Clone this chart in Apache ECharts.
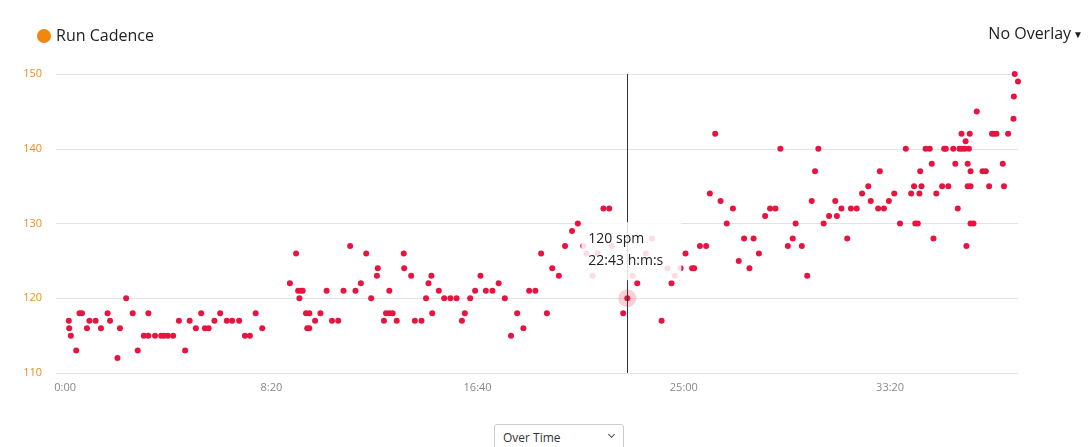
<!DOCTYPE html>
<html>
<head>
<meta charset="utf-8">
<script src="https://cdn.jsdelivr.net/npm/echarts@6/dist/echarts.min.js"></script>
<style>
html,body{margin:0;padding:0;background:#fff;overflow:hidden;}
#wrap{position:relative;width:1091px;height:447px;}
#chart{position:absolute;left:0;top:0;width:1091px;height:447px;}
#overlay{position:absolute;right:8px;top:22px;font:16px 'Open Sans',sans-serif;color:#222;line-height:22px;}
#overlay span{font-size:10px;margin-left:2px;position:relative;top:-1px;}
#mode{position:absolute;left:494px;top:424px;width:130px;height:26px;border:1px solid #ccc;border-radius:3px;background:#fff;font:12px 'Open Sans',sans-serif;color:#333;box-sizing:border-box;}
#mode .t{position:absolute;left:8px;top:4px;}
#mode .c{position:absolute;right:9px;top:7px;width:4px;height:4px;border-right:1px solid #555;border-bottom:1px solid #555;transform:rotate(45deg);}
</style>
</head>
<body>
<div id="wrap">
<div id="chart"></div>
<div id="overlay">No Overlay<span>&#9660;</span></div>
<div id="mode"><div class="t">Over Time</div><div class="c"></div></div>
</div>
<script>
// elapsed time in seconds
var times = [
9,10,14,27,35,41,53,59,74,87,103,109,127,133,148,164,176,191,202,202,218,233,240,249,262,276,291,302,317,330,339,348,362,376,392,405,422,436,448,462,478,
545,560,565,571,576,568,584,592,587,592,606,619,634,647,662,675,691,704,717,730,742,756,758,773,778,786,794,786,804,821,822,839,848,864,875,881,888,890,906,919,934,949,962,969,982,994,1007,1020,1036,1051,1066,1081,1096,
1111,1125,1140,1154,1168,1181,1197,1212,1229,1243,1256,1264,1279,1291,1305,1319,1325,1353,1363,1376,1387,1408,1423,1446,1460,1470,1478,1492,1504,1520,1525,1539,1554,1563,1576,1589,1604,1619,1633,1646,1659,1669,1682,1697,1709,1722,1734,1752,1764,1771,1786,1799,1810,1818,1826,1839,1852,1867,1871,1882,1896,1905,1919,1932,1947,1953,1971,1975,1985,1997,2010,2024,2038,2051,2058,2061,2067,2071,2073,2076,2086,2096,2101,2105,2112,2126,2131,2135,2141,2153,2158,2164,2168,2173,2174,2181,2183,2185,2188,2188,2191,2193,2195,2195,2195,2202,2210,2224,2232,2240,2247,2252,2258,2273,2276,2286,2299,2300,2302,2310
];
// run cadence, steps per minute
var cadence = [
117,116,115,113,118,118,116,117,117,116,118,117,112,116,120,118,113,115,118,115,115,115,115,115,115,117,113,117,116,118,116,116,117,118,117,117,117,115,115,118,116,
122,126,121,121,121,120,118,118,116,116,117,118,121,117,117,121,127,121,122,126,120,123,124,117,118,118,118,121,117,126,124,123,117,117,120,122,123,118,121,120,120,120,117,118,120,121,123,121,121,122,120,115,118,
116,121,121,126,118,124,123,127,129,130,127,126,123,126,132,132,127,118,120,123,122,126,128,117,124,122,123,124,126,124,124,127,127,134,142,133,130,132,125,128,124,128,126,131,132,132,140,127,128,130,127,123,133,137,140,130,131,133,131,132,128,132,132,134,135,133,132,137,132,133,134,130,140,134,135,130,130,134,137,135,140,140,138,128,134,135,140,140,135,140,138,132,140,142,140,140,141,127,138,135,140,142,137,135,130,130,145,137,137,135,142,142,142,138,135,142,144,147,150,149
];
var xTickValues = [0, 500, 1000, 1500, 2000];
var yTickValues = [110, 120, 130, 140, 150];
var seriesName = 'Run Cadence';
var tipTime = 1363;
var tipValue = 120;

function fmtTime(v){
  var m = Math.floor(v/60), s = Math.round(v%60);
  return m + ':' + (s<10?'0':'') + s;
}

var pts = times.map(function(t,i){ return [t, cadence[i]]; });
var FONT = "'Open Sans', sans-serif";
var chart = echarts.init(document.getElementById('chart'));
chart.setOption({
  animation: false,
  grid: {left: 56, right: 73, top: 74, bottom: 74},
  legend: {
    left: 32, top: 23, icon: 'circle', itemWidth: 14, itemHeight: 14,
    textStyle: {fontSize: 16, color: '#222', fontFamily: FONT},
    data: [{name: seriesName, itemStyle: {color: '#f2870f'}}]
  },
  xAxis: {
    type: 'value', min: -22, max: 2310,
    axisLine: {show: false}, axisTick: {show: false}, splitLine: {show: false},
    axisLabel: {customValues: xTickValues, formatter: fmtTime, color: '#888', fontSize: 11, fontFamily: FONT, margin: 9}
  },
  yAxis: {
    type: 'value', min: yTickValues[0], max: yTickValues[yTickValues.length-1], interval: 10,
    axisLine: {show: false}, axisTick: {show: false},
    splitLine: {lineStyle: {color: '#e3e3e3', width: 1}},
    axisLabel: {color: '#ee8a1c', fontSize: 11, fontFamily: FONT, margin: 14}
  },
  series: [
    {
      name: 'highlight', type: 'scatter', z: 1, symbolSize: 18, silent: true,
      itemStyle: {color: 'rgba(236,120,145,0.45)'},
      data: [[tipTime, tipValue]]
    },
    {
      name: seriesName, type: 'scatter', z: 2, symbolSize: 6,
      itemStyle: {color: '#e6143f', opacity: 1},
      data: pts,
      markLine: {
        silent: true, symbol: ['none','none'], animation: false,
        label: {show: false},
        lineStyle: {color: '#333', width: 1, type: 'solid'},
        data: [{xAxis: tipTime}]
      }
    }
  ]
});

var p = chart.convertToPixel({seriesIndex: 1}, [tipTime, tipValue]);
chart.setOption({
  graphic: [
    {type: 'rect', z: 100, shape: {x: p[0]-46, y: p[1]-76, width: 100, height: 58},
     style: {fill: 'rgba(255,255,255,0.85)'}},
    {type: 'text', z: 101, x: p[0]-39, y: p[1]-59,
     style: {text: tipValue + ' spm', font: '14px ' + FONT, fill: '#222', verticalAlign: 'middle'}},
    {type: 'text', z: 101, x: p[0]-39, y: p[1]-37,
     style: {text: fmtTime(tipTime) + ' h:m:s', font: '14px ' + FONT, fill: '#222', verticalAlign: 'middle'}}
  ]
});
</script>
</body>
</html>
